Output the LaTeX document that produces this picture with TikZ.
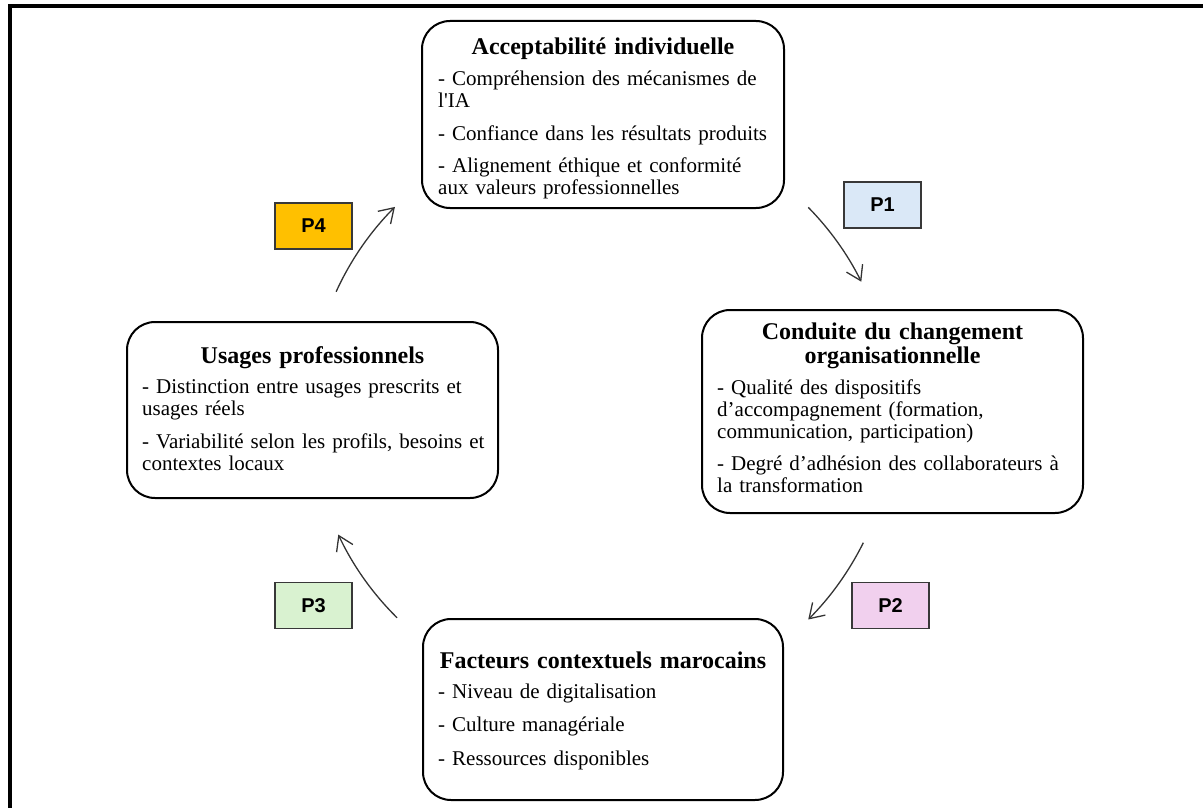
\documentclass[tikz,border=0pt]{standalone}
\usepackage{fontspec}
\setmainfont{Liberation Serif}
\newfontfamily\plainserif{Liberation Serif}
\newfontfamily\plabelfont{Liberation Sans}
\usetikzlibrary{arrows.meta}
\definecolor{pfour}{HTML}{FFC000}
\definecolor{pone}{HTML}{DAE8F7}
\definecolor{ptwo}{HTML}{F1D0EE}
\definecolor{pthree}{HTML}{D9F2D0}
\definecolor{arrowgray}{HTML}{333333}
\definecolor{pborder}{HTML}{383838}
\begin{document}
\begin{tikzpicture}[x=1pt,y=1pt,
  concept/.style={draw=black, line width=2pt, rounded corners=28pt, inner sep=0pt, fill=white},
  titletext/.style={font=\bfseries\fontsize{24pt}{24pt}\selectfont, align=center, text width=380pt, inner sep=0pt},
  bodytext/.style={font=\fontsize{21pt}{22pt}\selectfont, align=left, text width=370pt, inner sep=0pt},
  plabel/.style={draw=pborder, line width=1.5pt, minimum width=77pt, minimum height=46pt, inner sep=0pt,
    font=\plabelfont\bfseries\fontsize{20pt}{20pt}\selectfont},
  cyclearrow/.style={draw=arrowgray, line width=1.3pt, -{Straight Barb[length=14pt,width=18pt]}}
]
\useasboundingbox (0,0) rectangle (1203,-808);
% frame
\draw[line width=4pt, line join=miter] (9.5,-808) -- (9.5,-6) -- (1203,-6);

% boxes
\node[concept, minimum width=362pt, minimum height=187pt] (acc) at (603,-114.5) {};
\node[concept, minimum width=381pt, minimum height=203pt] (cond) at (892.5,-411.5) {};
\node[concept, minimum width=371pt, minimum height=176pt] (usa) at (312.5,-410) {};
\node[concept, minimum width=360pt, minimum height=181pt] (fact) at (603,-709.5) {};

% texts
\node[titletext, anchor=base] (acc-t) at (603,-55) {Acceptabilité individuelle};
\node[bodytext, anchor=base west] (acc-b) at (438,-85) {- Compréhension des mécanismes de\\ l{\plainserif'}IA\\[11pt] - Confiance dans les résultats produits\\[11pt] - Alignement éthique et conformité\\ aux valeurs professionnelles};

\node[titletext, anchor=base] (cond-t) at (892.5,-339) {Conduite du changement\\ organisationnelle};
\node[bodytext, anchor=base west] (cond-b) at (717,-394) {- Qualité des dispositifs\\ d’accompagnement (formation,\\ communication, participation)\\[10pt] - Degré d’adhésion des collaborateurs à\\ la transformation};

\node[titletext, anchor=base] (usa-t) at (312.5,-363) {Usages professionnels};
\node[bodytext, anchor=base west] (usa-b) at (142,-393) {- Distinction entre usages prescrits et\\ usages réels\\[11pt] - Variabilité selon les profils, besoins et\\ contextes locaux};

\node[titletext, anchor=base] (fact-t) at (603,-668) {Facteurs contextuels marocains};
\node[bodytext, anchor=base west] (fact-b) at (438,-698) {- Niveau de digitalisation\\[11.5pt] - Culture managériale\\[11.5pt] - Ressources disponibles};

% P labels
\node[plabel, fill=pfour] (p4) at (313.5,-226) {P4};
\node[plabel, fill=pone] (p1) at (882.5,-205) {P1};
\node[plabel, fill=ptwo] (p2) at (890.5,-605.5) {P2};
\node[plabel, fill=pthree] (p3) at (313.5,-605.5) {P3};

% cycle arrows
\coordinate (ctr) at (600,-412);
\coordinate (a4s) at ([shift={(155.5:290)}]ctr);
\coordinate (a1s) at ([shift={(44.5:292)}]ctr);
\coordinate (a2s) at ([shift={(-26.4:294)}]ctr);
\coordinate (a3s) at ([shift={(225.4:289)}]ctr);
\draw[cyclearrow] (a4s) arc[start angle=155.5, end angle=135, radius=290];
\draw[cyclearrow] (a1s) arc[start angle=44.5, end angle=26.5, radius=292];
\draw[cyclearrow] (a2s) arc[start angle=-26.4, end angle=-44.9, radius=294];
\draw[cyclearrow] (a3s) arc[start angle=225.4, end angle=205.1, radius=289];
\end{tikzpicture}
\end{document}
